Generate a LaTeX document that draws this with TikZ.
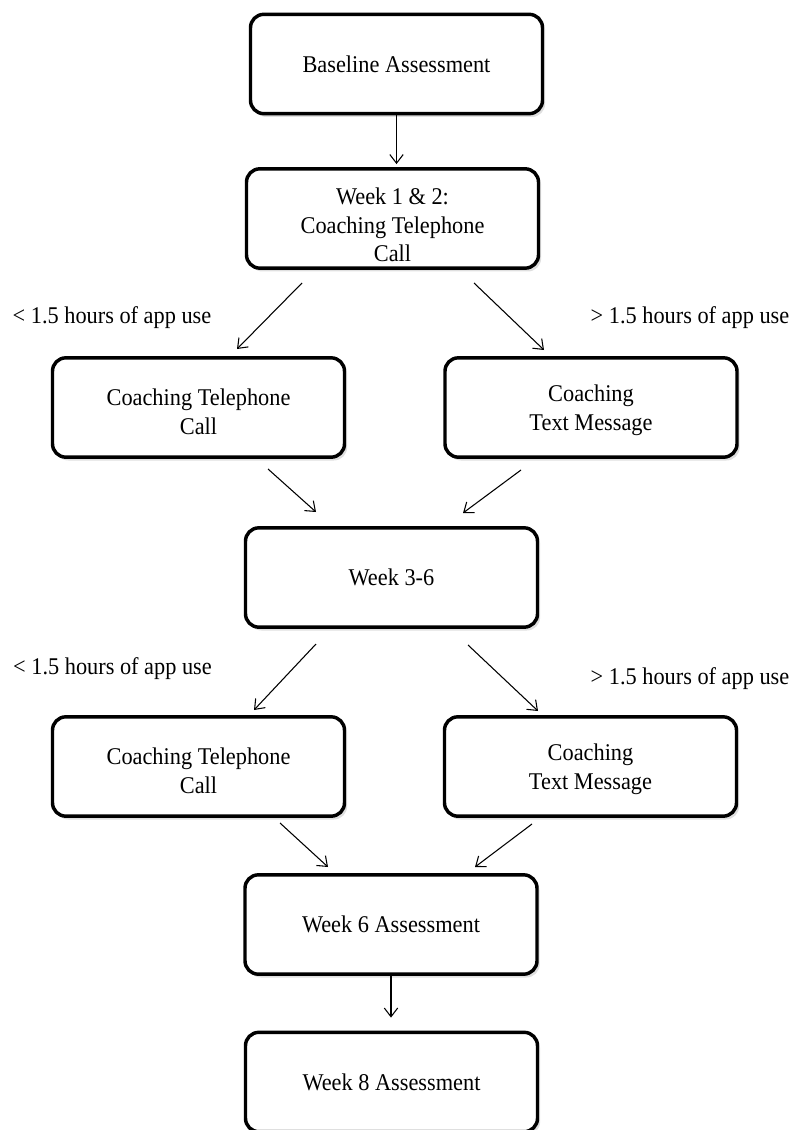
\documentclass[tikz,border=0pt]{standalone}
\usepackage{fontspec}
\setmainfont{Liberation Serif}[FakeStretch=0.93]
\usetikzlibrary{arrows.meta, calc, shadows}

\begin{document}
\begin{tikzpicture}[x=0.75pt, y=-0.75pt,
  stage/.style={draw=black, line width=2.6pt, rounded corners=10pt, fill=white,
    minimum width=219pt, minimum height=74.5pt, inner sep=0pt, align=center,
    font=\fontsize{18}{21.5}\selectfont,
    drop shadow={shadow xshift=2pt, shadow yshift=-2.5pt, opacity=0.25}},
  cond/.style={font=\fontsize{18}{21.5}\selectfont, anchor=base, inner sep=0pt},
  flow/.style={-{Straight Barb[length=6.5pt, width=10pt]}, line width=0.8pt}]

  \useasboundingbox (0,0) rectangle (795,1130);

  \node[stage] (base) at (396.5,64) {Baseline Assessment};
  \node[stage, text height=65pt] (w12) at (392.5,218.5) {Week 1 \& 2:\\Coaching Telephone\\Call};
  \node[stage, text height=40pt] (ctcA) at (198.5,407.5) {Coaching Telephone\\Call};
  \node[stage, text height=38pt] (ctmA) at (591,407.5) {Coaching\\Text Message};
  \node[stage] (w36) at (391.5,577.5) {Week 3-6};
  \node[stage, text height=40pt] (ctcB) at (198.5,766.5) {Coaching Telephone\\Call};
  \node[stage, text height=38pt] (ctmB) at (590.5,766.5) {Coaching\\Text Message};
  \node[stage] (w6) at (391,924.5) {Week 6 Assessment};
  \node[stage] (w8) at (391.5,1082) {Week 8 Assessment};

  \node[cond] (lessA) at (112,323) {< 1.5 hours of app use};
  \node[cond] (moreA) at (690,323) {> 1.5 hours of app use};
  \node[cond] (lessB) at (112.5,674) {< 1.5 hours of app use};
  \node[cond] (moreB) at (690,684) {> 1.5 hours of app use};

  \draw[flow] (base.south) -- ($(base.south |- w12.north)+(0,-3)$);
  \draw[flow] ($(w12)+(-90.5,64.5)$) -- ($(ctcA)+(38.5,-58.5)$);
  \draw[flow] ($(w12)+(81.5,64.5)$) -- ($(ctmA)+(-47,-57.5)$);
  \draw[flow] ($(ctcA)+(69.5,61.5)$) -- ($(w36)+(-75.5,-65.5)$);
  \draw[flow] ($(ctmA)+(-70,62.5)$) -- ($(w36)+(71.5,-64.5)$);
  \draw[flow] ($(w36)+(-75.5,66.5)$) -- ($(ctcB)+(55.5,-56.5)$);
  \draw[flow] ($(w36)+(76.5,67.5)$) -- ($(ctmB)+(-52.5,-55.5)$);
  \draw[flow] ($(ctcB)+(81.5,56.5)$) -- ($(w6)+(-63,-57.5)$);
  \draw[flow] ($(ctmB)+(-58.5,57.5)$) -- ($(w6)+(84,-57.5)$);
  \draw[flow] (w6.south) -- ($(w6.south |- w8.north)+(0,-13)$);
\end{tikzpicture}
\end{document}
